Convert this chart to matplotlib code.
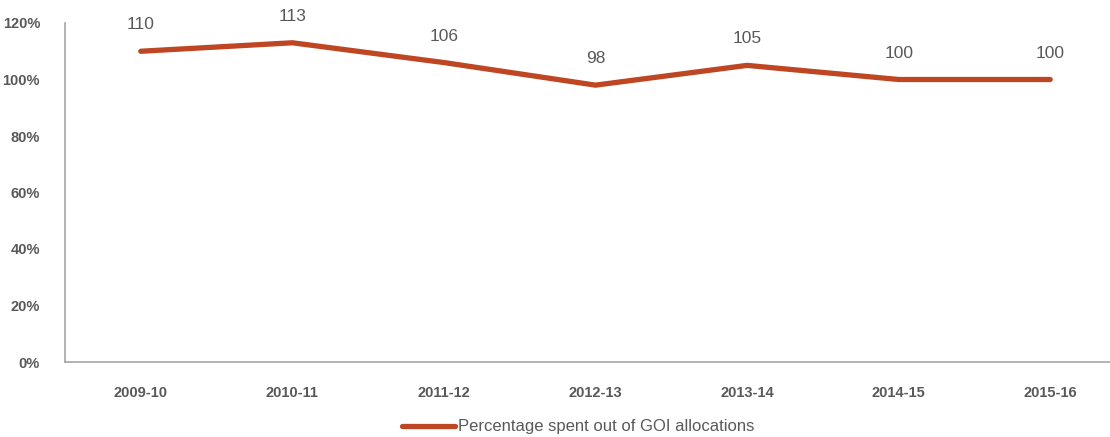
import matplotlib.pyplot as plt
from matplotlib.ticker import FuncFormatter

years = ['2009-10', '2010-11', '2011-12', '2012-13', '2013-14', '2014-15', '2015-16']
spent_pct = [110, 113, 106, 98, 105, 100, 100]
y_ticks = [0, 20, 40, 60, 80, 100, 120]

line_color = '#BE4622'
text_color = '#595959'
plt.rcParams['font.family'] = ['Liberation Sans', 'DejaVu Sans']

W, H = 1110, 437
fig = plt.figure(figsize=(W / 100, H / 100), dpi=100)
# plot area runs past the right edge, as in the cropped original
left, right, bottom, top = 65, 1126, 362, 23
ax = fig.add_axes([left / W, 1 - bottom / H, (right - left) / W, (bottom - top) / H])

x = range(len(years))
ax.plot(x, spent_pct, color=line_color, lw=3.8, solid_capstyle='round',
        solid_joinstyle='round', label='Percentage spent out of GOI allocations')

for i, v in enumerate(spent_pct):
    ax.annotate(str(v), (i, v), xytext=(0, 19), textcoords='offset points',
                ha='center', va='center', fontsize=12.5, color=text_color)

ax.set_xlim(-0.5, len(years) - 0.5)
ax.set_ylim(0, 120)
ax.set_yticks(y_ticks)
ax.yaxis.set_major_formatter(FuncFormatter(lambda v, p: f'{v:.0f}%'))
ax.set_xticks(list(x))
ax.set_xticklabels(years)
ax.tick_params(length=0, colors=text_color, labelsize=10.5)
ax.tick_params(axis='x', pad=17)
ax.tick_params(axis='y', pad=18)
for lab in ax.get_xticklabels() + ax.get_yticklabels():
    lab.set_fontweight('bold')

for s in ['top', 'right']:
    ax.spines[s].set_visible(False)
for s in ['left', 'bottom']:
    ax.spines[s].set_color('#A6A6A6')
    ax.spines[s].set_linewidth(1.2)

fig.legend(loc='center', bbox_to_anchor=(578 / W, 1 - 427 / H), frameon=False,
           fontsize=12, handlelength=3.2, handletextpad=0.15,
           labelcolor=text_color)

fig.savefig('out.png', dpi=100)
